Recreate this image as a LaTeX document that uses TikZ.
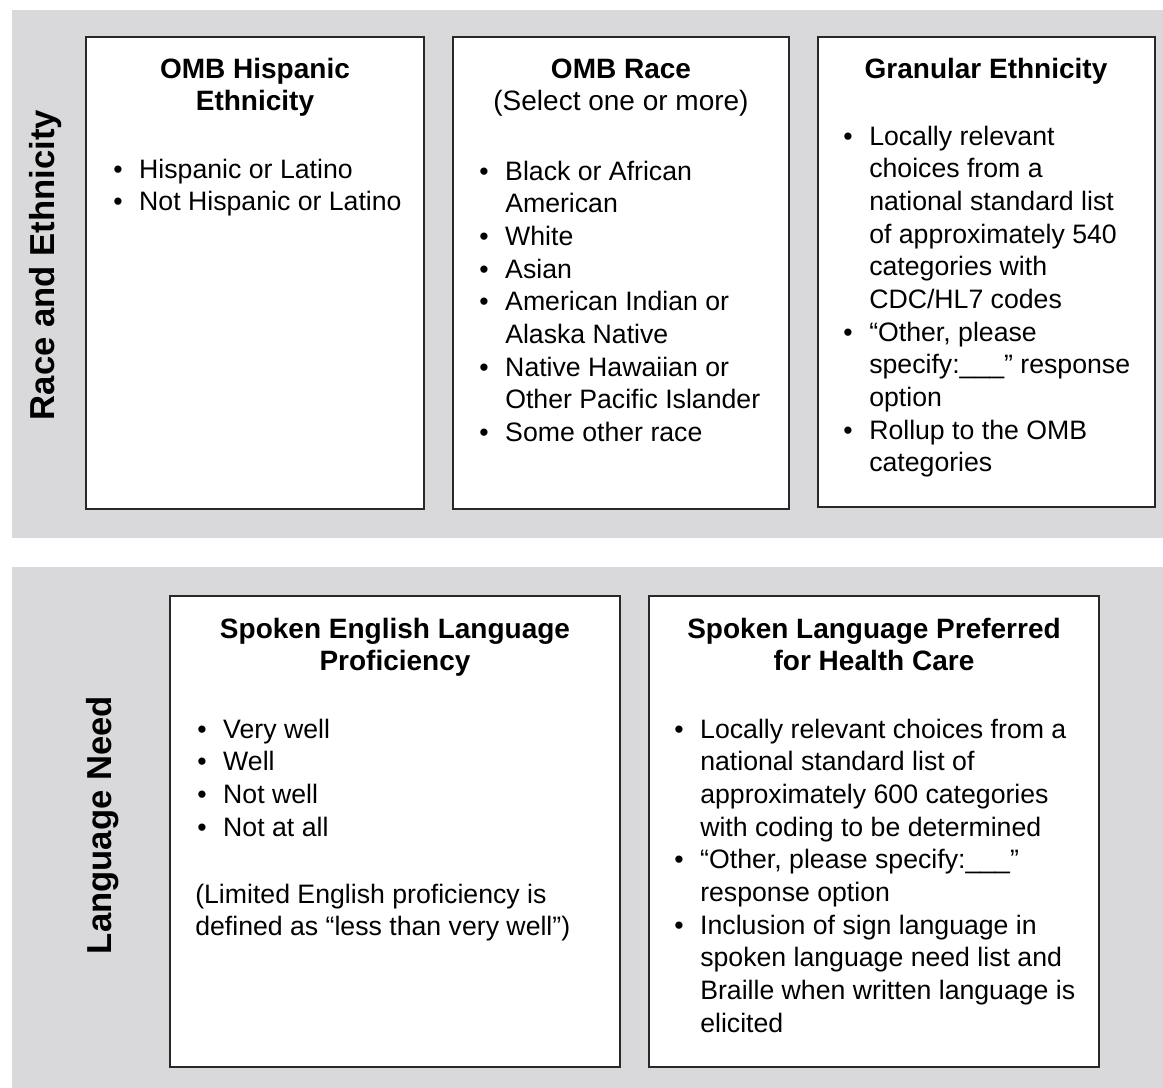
\documentclass[tikz,border=0pt]{standalone}
\usepackage{fontspec}
\setmainfont{Liberation Sans}
\usepackage{array}
\definecolor{panel}{RGB}{217,217,219}
\definecolor{boxline}{RGB}{40,40,40}
\newcommand{\bodyfont}{\fontsize{20}{24.5}\selectfont}
\newcommand{\headfont}{\fontsize{21}{24}\selectfont}
\newcommand{\bl}{\textbullet}
\tikzset{
  panelbg/.style={fill=panel, draw=none},
  cbox/.style={draw=boxline, line width=1.3pt, fill=white},
  head/.style={inner sep=0pt, anchor=base, font=\headfont},
  body/.style={inner sep=0pt, anchor=base west, font=\bodyfont},
  sidelabel/.style={inner sep=0pt, rotate=90, font=\fontsize{26}{30}\selectfont\bfseries}
}
\begin{document}
\begin{tikzpicture}[x=0.75pt,y=-0.75pt]
\useasboundingbox (0,0) rectangle (1163,1088);
\fill[white] (0,0) rectangle (1163,1088);
% panels
\path[panelbg] (12,10) rectangle (1163,538);
\path[panelbg] (12,567) rectangle (1163,1088);
% side labels
\node[sidelabel] (lab1) at (46,265) {Race and Ethnicity};
\node[sidelabel] (lab2) at (103,825) {Language Need};
% boxes
\draw[cbox] (86,37) rectangle (424,509);
\draw[cbox] (453,37) rectangle (789,509);
\draw[cbox] (818,37) rectangle (1155,507);
\draw[cbox] (170,596) rectangle (620,1067);
\draw[cbox] (649,596) rectangle (1099,1067);
% box 1
\node[head] (h1) at (255,79) {\begin{tabular}[t]{@{}c@{}}\bfseries OMB Hispanic\\\bfseries Ethnicity\end{tabular}};
\node[body] (l1) at (113,178) {\begin{tabular}[t]{@{}p{19.5pt}@{}l@{}}
\bl & Hispanic or Latino\\
\bl & Not Hispanic or Latino
\end{tabular}};
% box 2
\node[head] (h2) at (621,79) {\begin{tabular}[t]{@{}c@{}}\bfseries OMB Race\\(Select one or more)\end{tabular}};
\node[body] (l2) at (479,180) {\begin{tabular}[t]{@{}p{19.5pt}@{}l@{}}
\bl & Black or African\\
 & American\\
\bl & White\\
\bl & Asian\\
\bl & American Indian or\\
 & Alaska Native\\
\bl & Native Hawaiian or\\
 & Other Pacific Islander\\
\bl & Some other race
\end{tabular}};
% box 3
\node[head] (h3) at (986,79) {\begin{tabular}[t]{@{}c@{}}\bfseries Granular Ethnicity\end{tabular}};
\node[body] (l3) at (843,145) {\begin{tabular}[t]{@{}p{19.5pt}@{}l@{}}
\bl & Locally relevant\\
 & choices from a\\
 & national standard list\\
 & of approximately 540\\
 & categories with\\
 & CDC/HL7 codes\\
\bl & “Other, please\\
 & specify:\_\_\_” response\\
 & option\\
\bl & Rollup to the OMB\\
 & categories
\end{tabular}};
% box 4
\node[head] (h4) at (395,638) {\begin{tabular}[t]{@{}c@{}}\bfseries Spoken English Language\\\bfseries Proficiency\end{tabular}};
\node[body] (l4) at (197,738) {\begin{tabular}[t]{@{}p{19.5pt}@{}l@{}}
\bl & Very well\\
\bl & Well\\
\bl & Not well\\
\bl & Not at all
\end{tabular}};
\node[body] (p4) at (195,903) {\begin{tabular}[t]{@{}l@{}}
(Limited English proficiency is\\
defined as “less than very well”)
\end{tabular}};
% box 5
\node[head] (h5) at (874,638) {\begin{tabular}[t]{@{}c@{}}\bfseries Spoken Language Preferred\\\bfseries for Health Care\end{tabular}};
\node[body] (l5) at (674,738) {\begin{tabular}[t]{@{}p{19.5pt}@{}l@{}}
\bl & Locally relevant choices from a\\
 & national standard list of\\
 & approximately 600 categories\\
 & with coding to be determined\\
\bl & “Other, please specify:\_\_\_”\\
 & response option\\
\bl & Inclusion of sign language in\\
 & spoken language need list and\\
 & Braille when written language is\\
 & elicited
\end{tabular}};
\end{tikzpicture}
\end{document}
